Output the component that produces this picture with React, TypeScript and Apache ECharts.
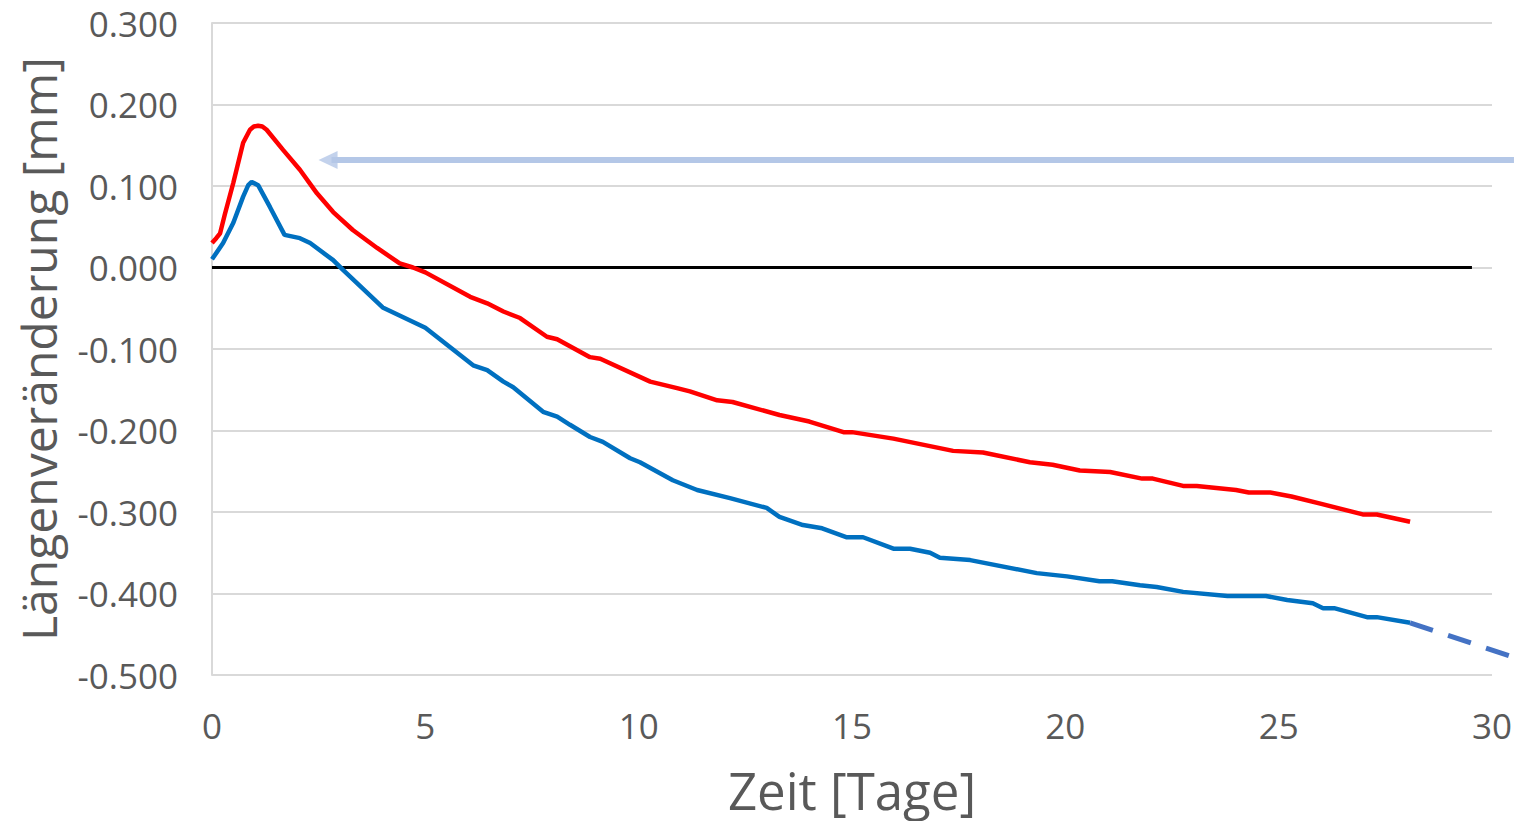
import React, { useEffect, useRef } from "react";
import * as echarts from "echarts";

// Red curve
const redDays = [0, 0.1, 0.19, 0.3, 0.5, 0.73, 0.89, 0.98, 1.08, 1.18, 1.28, 1.67, 2.06, 2.46, 2.84, 3.3, 3.87, 4.4, 4.71, 5.0, 6.05, 6.45, 6.83, 7.22, 7.85, 8.09, 8.86, 9.1, 10.27, 10.9, 11.2, 11.84, 12.2, 13.3, 14.0, 14.8, 15.0, 15.97, 17.37, 18.07, 19.17, 19.7, 20.34, 21.05, 21.8, 22.05, 22.76, 23.08, 24.0, 24.3, 24.8, 25.3, 26.0, 26.97, 27.3, 28.08];
const redValues = [0.030, 0.036, 0.042, 0.065, 0.104, 0.153, 0.169, 0.173, 0.174, 0.173, 0.169, 0.144, 0.120, 0.091, 0.068, 0.046, 0.024, 0.005, 0.0, -0.006, -0.036, -0.044, -0.054, -0.062, -0.085, -0.088, -0.110, -0.112, -0.140, -0.148, -0.152, -0.163, -0.165, -0.181, -0.189, -0.202, -0.202, -0.210, -0.225, -0.227, -0.239, -0.242, -0.249, -0.251, -0.259, -0.259, -0.268, -0.268, -0.273, -0.276, -0.276, -0.281, -0.290, -0.303, -0.303, -0.312];

// Blue curve
const blueDays = [0, 0.26, 0.5, 0.73, 0.85, 0.93, 1.08, 1.36, 1.7, 2.06, 2.3, 2.84, 3.07, 4.0, 5.0, 6.12, 6.45, 6.83, 7.06, 7.76, 8.09, 8.39, 8.86, 9.16, 9.8, 10.03, 10.8, 11.37, 12.14, 13.0, 13.3, 13.85, 14.3, 14.88, 15.26, 15.97, 16.36, 16.83, 17.06, 17.77, 19.33, 20.04, 20.8, 21.1, 21.75, 22.14, 22.76, 23.8, 24.7, 25.2, 25.8, 26.04, 26.3, 27.07, 27.3, 28.08];
const blueValues = [0.010, 0.030, 0.055, 0.087, 0.101, 0.105, 0.101, 0.074, 0.040, 0.036, 0.030, 0.009, -0.003, -0.049, -0.074, -0.120, -0.126, -0.140, -0.147, -0.177, -0.183, -0.193, -0.208, -0.214, -0.234, -0.239, -0.261, -0.273, -0.283, -0.295, -0.306, -0.316, -0.320, -0.331, -0.331, -0.345, -0.345, -0.350, -0.356, -0.359, -0.375, -0.379, -0.385, -0.385, -0.390, -0.392, -0.398, -0.403, -0.403, -0.408, -0.412, -0.418, -0.418, -0.429, -0.429, -0.436];

// Dashed extrapolation of the blue curve (runs past the 30-day edge)
const dashDays = [28.08, 30.5];
const dashValues = [-0.436, -0.478];

// Zero reference line
const zeroDays = [0, 29.53];
const zeroValues = [0, 0];

// Arrow annotation: shaft (from right edge of picture) and head position
const arrowDays = [30.515, 2.8];
const arrowValues = [0.132, 0.132];
const arrowHeadDay = [2.72];
const arrowHeadValue = [0.132];

const xTicks = [0, 5, 10, 15, 20, 25, 30];
const yTicks = [-0.5, -0.4, -0.3, -0.2, -0.1, 0, 0.1, 0.2, 0.3];
// extended (hidden) x range reaching the right border of the picture
const xOverflowMax = 30.515625;

const pairs = (xs: number[], ys: number[]) => xs.map((x, i) => [x, ys[i]]);

export default function App() {
  const ref = useRef<HTMLDivElement>(null);
  useEffect(() => {
    if (!ref.current) return;
    const chart = echarts.init(ref.current, undefined, { renderer: "svg" });
    const font = "'Open Sans', sans-serif";
    const textColor = "#595959";
    chart.setOption({
      animation: false,
      backgroundColor: "#ffffff",
      grid: [
        {
          left: 212,
          right: 22,
          top: 23,
          bottom: 146,
          containLabel: false,
          outerBoundsMode: "none",
        },
        {
          left: 212,
          right: 0,
          top: 23,
          bottom: 146,
          containLabel: false,
          outerBoundsMode: "none",
        },
      ],
      xAxis: [
        {
          type: "value",
          gridIndex: 0,
          min: xTicks[0],
          max: xTicks[xTicks.length - 1],
          interval: 5,
          name: "Zeit [Tage]",
          nameLocation: "middle",
          nameGap: 89,
          nameTextStyle: { fontFamily: font, fontSize: 51, lineHeight: 52, color: textColor },
          axisLine: { show: false },
          axisTick: { show: false },
          splitLine: { show: false },
          axisLabel: { fontFamily: font, fontSize: 35, color: textColor, margin: 33 },
        },
        {
          type: "value",
          gridIndex: 1,
          min: 0,
          max: xOverflowMax,
          show: false,
        },
      ],
      yAxis: [
        {
          type: "value",
          gridIndex: 0,
          min: yTicks[0],
          max: yTicks[yTicks.length - 1],
          interval: 0.1,
          name: "Längenveränderung [mm]",
          nameLocation: "middle",
          nameGap: 150,
          nameTextStyle: { fontFamily: font, fontSize: 48, color: textColor },
          axisLine: { show: true, lineStyle: { color: "#D9D9D9", width: 2 } },
          axisTick: { show: false },
          splitLine: { show: true, lineStyle: { color: "#D9D9D9", width: 2 } },
          axisLabel: {
            fontFamily: font,
            fontSize: 35,
            color: textColor,
            margin: 34,
            formatter: (v: number) => (Math.abs(v) < 1e-9 ? 0 : v).toFixed(3),
          },
        },
        {
          type: "value",
          gridIndex: 1,
          min: yTicks[0],
          max: yTicks[yTicks.length - 1],
          show: false,
        },
      ],
      series: [
        {
          type: "line",
          data: pairs(zeroDays, zeroValues),
          showSymbol: false,
          lineStyle: { color: "#000000", width: 3 },
          silent: true,
          z: 2,
        },
        {
          type: "line",
          xAxisIndex: 1,
          yAxisIndex: 1,
          data: pairs(arrowDays, arrowValues),
          showSymbol: false,
          clip: false,
          lineStyle: { color: "#B4C7E7", width: 6 },
          silent: true,
          z: 2,
        },
        {
          type: "scatter",
          xAxisIndex: 1,
          yAxisIndex: 1,
          data: pairs(arrowHeadDay, arrowHeadValue),
          clip: false,
          symbol: "triangle",
          symbolSize: [18, 19],
          symbolRotate: 90,
          itemStyle: { color: "#B4C7E7" },
          silent: true,
          z: 2,
        },
        {
          type: "line",
          data: pairs(redDays, redValues),
          showSymbol: false,
          lineStyle: { color: "#FF0000", width: 4.5 },
          z: 3,
        },
        {
          type: "line",
          data: pairs(blueDays, blueValues),
          showSymbol: false,
          lineStyle: { color: "#0070C0", width: 4.5 },
          z: 3,
        },
        {
          type: "line",
          xAxisIndex: 1,
          yAxisIndex: 1,
          data: pairs(dashDays, dashValues),
          showSymbol: false,
          clip: false,
          lineStyle: { color: "#4472C4", width: 5, type: [24, 16] },
          z: 3,
        },
      ],
    });
    return () => chart.dispose();
  }, []);
  return (
    <div
      ref={ref}
      style={{ position: "fixed", left: 0, top: 0, width: 1514, height: 821 }}
    />
  );
}
